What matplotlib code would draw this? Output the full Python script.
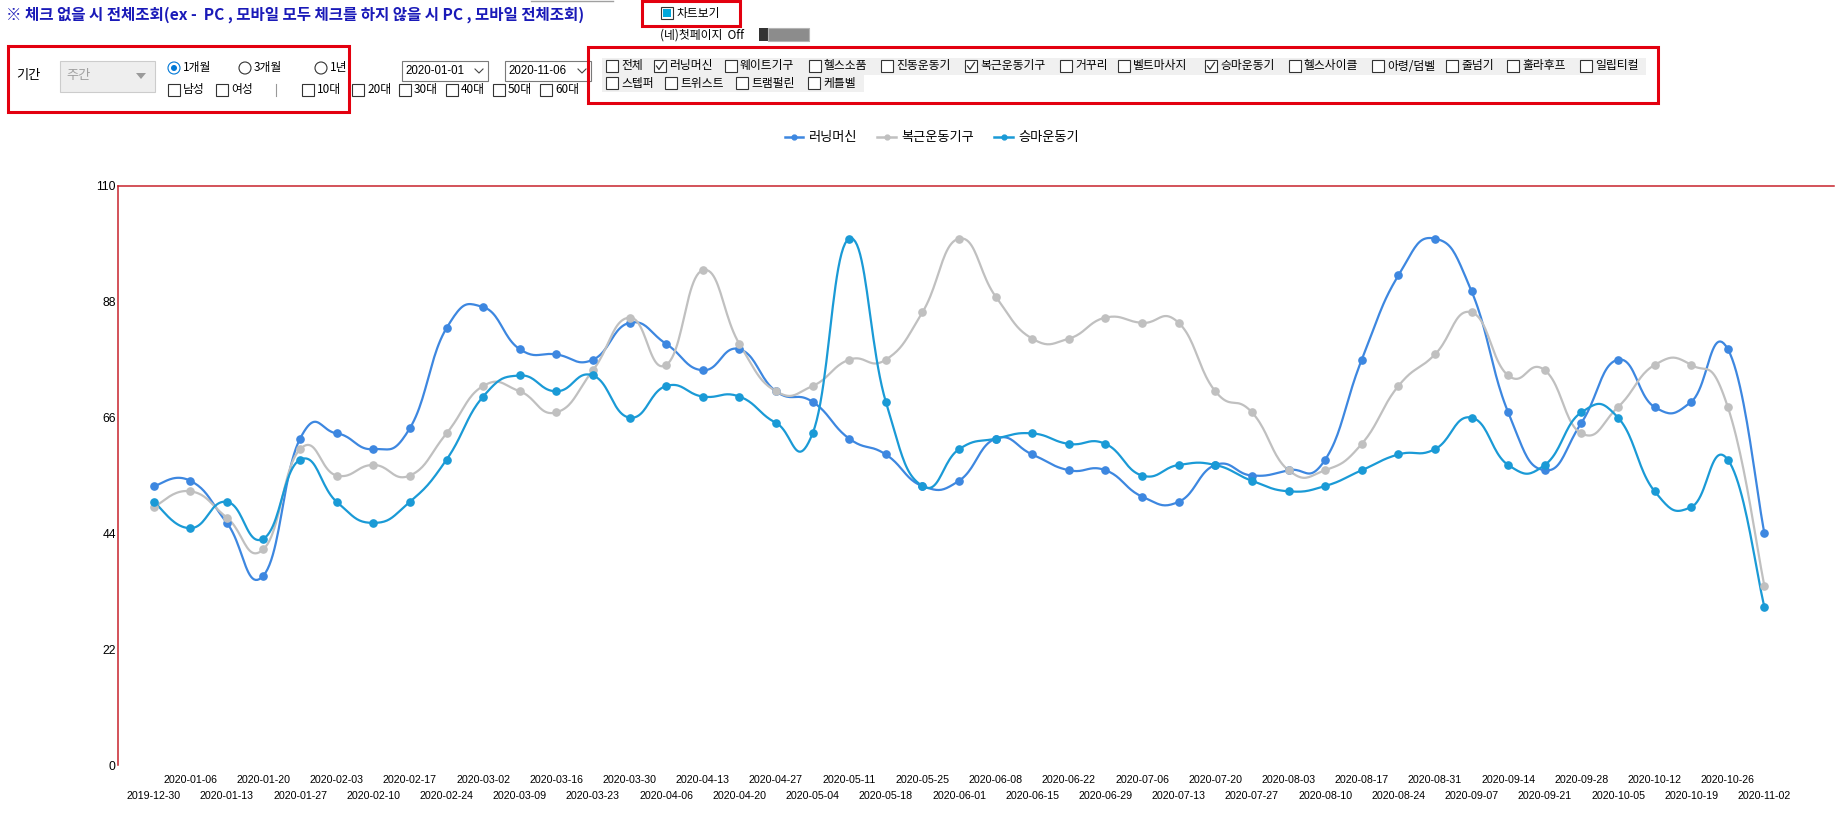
"""
Weekly search trend chart (러닝머신 / 복근운동기구 / 승마운동기) with the
surrounding Windows Forms filter panel.
"""

import numpy as np
import matplotlib
matplotlib.use("Agg")
import matplotlib.pyplot as plt
from matplotlib.patches import Rectangle, Circle, Polygon
from matplotlib.lines import Line2D

W, H = 1840, 831
KR = ["Noto Sans CJK KR", "DejaVu Sans"]
LATIN = ["Liberation Sans", "DejaVu Sans"]

# ---- data -------------------------------------------------------------
dates = [
    "2019-12-30", "2020-01-06", "2020-01-13", "2020-01-20", "2020-01-27",
    "2020-02-03", "2020-02-10", "2020-02-17", "2020-02-24", "2020-03-02",
    "2020-03-09", "2020-03-16", "2020-03-23", "2020-03-30", "2020-04-06",
    "2020-04-13", "2020-04-20", "2020-04-27", "2020-05-04", "2020-05-11",
    "2020-05-18", "2020-05-25", "2020-06-01", "2020-06-08", "2020-06-15",
    "2020-06-22", "2020-06-29", "2020-07-06", "2020-07-13", "2020-07-20",
    "2020-07-27", "2020-08-03", "2020-08-10", "2020-08-17", "2020-08-24",
    "2020-08-31", "2020-09-07", "2020-09-14", "2020-09-21", "2020-09-28",
    "2020-10-05", "2020-10-12", "2020-10-19", "2020-10-26", "2020-11-02",
]
running = [53, 54, 46, 36, 62, 63, 60, 64, 83, 87, 79, 78, 77, 84, 80,
           75, 79, 71, 69, 62, 59, 53, 54, 62, 59, 56, 56, 51, 50, 57,
           55, 56, 58, 77, 93, 100, 90, 67, 56, 65, 77, 68, 69, 79, 44]
abs_gear = [49, 52, 47, 41, 60, 55, 57, 55, 63, 72, 71, 67, 75, 85, 76,
            94, 80, 71, 72, 77, 77, 86, 100, 89, 81, 81, 85, 84, 84, 71,
            67, 56, 56, 61, 72, 78, 86, 74, 75, 63, 68, 76, 76, 68, 34]
riding = [50, 45, 50, 43, 58, 50, 46, 50, 58, 70, 74, 71, 74, 66, 72,
          70, 70, 65, 63, 100, 69, 53, 60, 62, 63, 61, 61, 55, 57, 57,
          54, 52, 53, 56, 59, 60, 66, 57, 57, 67, 66, 52, 49, 58, 30]

series_names = ["러닝머신", "복근운동기구", "승마운동기"]
series_colors = ["#3d87e0", "#c0c0c0", "#1a9ad6"]
y_ticks = [0, 22, 44, 66, 88, 110]

products_row1 = ["전체", "러닝머신", "웨이트기구", "헬스소품", "진동운동기", "복근운동기구",
                 "거꾸리", "벨트마사지", "승마운동기", "헬스사이클", "아령/덤벨", "줄넘기",
                 "훌라후프", "일립티컬"]
products_row2 = ["스텝퍼", "트위스트", "트램펄린", "케틀벨"]
checked_products = ["러닝머신", "복근운동기구", "승마운동기"]
ages = ["10대", "20대", "30대", "40대", "50대", "60대"]


def spline(y, tension=0.7, n=24):
    # GDI+ style cardinal spline through the points (x = category index)
    p = np.column_stack([np.arange(len(y), dtype=float), np.asarray(y, float)])
    pp = np.vstack([p[0], p, p[-1]])
    t = np.linspace(0, 1, n)[:, None]
    out = []
    for i in range(len(p) - 1):
        p0, p1, p2, p3 = pp[i], pp[i + 1], pp[i + 2], pp[i + 3]
        c1 = p1 + tension / 3 * (p2 - p0)
        c2 = p2 - tension / 3 * (p3 - p1)
        b = (1 - t) ** 3 * p1 + 3 * (1 - t) ** 2 * t * c1 + 3 * (1 - t) * t ** 2 * c2 + t ** 3 * p2
        out.append(b if i == 0 else b[1:])
    c = np.vstack(out)
    return c[:, 0], c[:, 1]


fig = plt.figure(figsize=(W / 100, H / 100), dpi=100)
fig.patch.set_facecolor("white")

# ---- chart ------------------------------------------------------------
left, right, top, bottom = 118.5, 1834, 186, 765
ax = fig.add_axes([left / W, 1 - bottom / H, (right - left) / W, (bottom - top) / H])
x = np.arange(len(dates))
for vals, name, col in zip([running, abs_gear, riding], series_names, series_colors):
    sx, sy = spline(vals)
    ax.plot(sx, sy, color=col, lw=1.6, zorder=3)
    ax.plot(x, vals, "o", color=col, ms=5.2, zorder=4)

ax.set_xlim(-0.96, 45.9)
ax.set_ylim(0, 110)
ax.set_yticks(y_ticks)
ax.set_yticklabels([str(v) for v in y_ticks], family=LATIN, fontsize=8.7)
ax.tick_params(axis="y", length=0, pad=2)

ax.set_xticks(x[1::2])
ax.set_xticklabels(dates[1::2], family=LATIN, fontsize=7.7)
ax.set_xticks(x[0::2], minor=True)
ax.set_xticklabels(dates[0::2], minor=True, family=LATIN, fontsize=7.7)
ax.tick_params(axis="x", which="major", length=0, pad=7)
ax.tick_params(axis="x", which="minor", length=0, pad=18.5)

for s in ["right", "bottom"]:
    ax.spines[s].set_visible(False)
for s in ["left", "top"]:
    ax.spines[s].set_color("#c8232c")
    ax.spines[s].set_linewidth(1.1)

handles = [Line2D([], [], color=c, lw=1.8, marker="o", ms=3.5) for c in series_colors]
fig.legend(handles, series_names, loc="center", bbox_to_anchor=(932 / W, 1 - 138 / H),
           ncol=3, frameon=False, prop={"family": KR, "size": 9.5},
           handlelength=1.4, handletextpad=0.45, columnspacing=1.5, numpoints=1)

# ---- form controls (pixel coordinates) -------------------------------
ui = fig.add_axes([0, 0, 1, 1], zorder=-1)
ui.set_xlim(0, W)
ui.set_ylim(H, 0)
ui.axis("off")


def rect(x0, y0, x1, y1, ec="none", fc="none", lw=0.72):
    ui.add_patch(Rectangle((x0, y0), x1 - x0, y1 - y0, ec=ec, fc=fc, lw=lw))


def label(xp, yp, s, size=8.5, color="#000000", **kw):
    ui.text(xp, yp, s, fontsize=size, color=color, va="center", ha="left", family=KR, **kw)


def checkbox(xp, yp, s, checked=False):
    rect(xp, yp - 6, xp + 12, yp + 6, ec="#333333", fc="white", lw=0.8)
    if checked:
        ui.plot([xp + 2.5, xp + 5, xp + 9.5], [yp, yp + 3.5, yp - 3.5], color="#333333", lw=0.9)
    label(xp + 15, yp, s)


def radio(xp, yp, s, checked=False):
    if checked:
        ui.add_patch(Circle((xp + 6, yp), 6, ec="#0078d7", fc="white", lw=0.8))
        ui.add_patch(Circle((xp + 6, yp), 3, ec="none", fc="#0078d7"))
    else:
        ui.add_patch(Circle((xp + 6, yp), 6, ec="#333333", fc="white", lw=0.8))
    label(xp + 15, yp, s)


RED = "#e3000f"

# header note
ui.text(6, 15, "※ 체크 없을 시 전체조회(ex -  PC , 모바일 모두 체크를 하지 않을 시 PC , 모바일 전체조회)",
        fontsize=11.2, color="#1a1ab8", weight="bold", va="center", ha="left", family=KR)
ui.plot([531, 613], [1, 1], color="#a0a0a0", lw=1)

# chart toggle
rect(642, 1, 740, 26, ec=RED, lw=2.2)
rect(661, 7, 673, 19, ec="#333333", fc="white", lw=0.8)
rect(663, 9, 671, 17, fc="#00a8dc")
label(677, 13, "차트보기")
label(660, 35, "(네)첫페이지  Off")
rect(759, 28, 768, 41, fc="#333333")
rect(768, 28, 809, 41, ec="#b4b4b4", fc="#8c8c8c", lw=0.8)

# period / gender / age panel
rect(8, 46, 349, 112, ec=RED, lw=2.2)
label(16, 76, "기간", size=9.5)
rect(60, 61, 155, 92, ec="#cccccc", fc="#eeeeee", lw=0.8)
label(66, 76, "주간", size=9.5, color="#a0a0a0")
ui.add_patch(Polygon([[136, 73], [146, 73], [141, 79]], closed=True, fc="#9a9a9a", ec="none"))
radio(168, 68, "1개월", checked=True)
radio(239, 68, "3개월")
radio(315, 68, "1년")
checkbox(168, 90, "남성")
checkbox(216, 90, "여성")
ui.plot([276, 276], [84, 96], color="#999999", lw=0.8)
for xp, s in zip([302, 352, 399, 446, 493, 540], ages):
    checkbox(xp, 90, s)

# date pickers
for x0, s in [(402, "2020-01-01"), (505, "2020-11-06")]:
    rect(x0, 61, x0 + 86, 81, ec="#7a7a7a", fc="white", lw=0.8)
    ui.text(x0 + 3, 71, s, fontsize=8.3, va="center", ha="left", family=LATIN)
    ui.plot([x0 + 73, x0 + 77, x0 + 81], [69, 73, 69], color="#444444", lw=0.8)

# product panel
rect(588, 47, 1658, 103, ec=RED, lw=2.2)
rect(602, 58, 1646, 75, fc="#f0f0f0")
rect(602, 75, 864, 92, fc="#f0f0f0")
for xp, s in zip([606, 654, 725, 809, 881, 965, 1060, 1118, 1205, 1289, 1372, 1446, 1507, 1580],
                 products_row1):
    checkbox(xp, 66, s, s in checked_products)
for xp, s in zip([606, 665, 736, 808], products_row2):
    checkbox(xp, 83, s, s in checked_products)

fig.savefig("out.png", dpi=100)
